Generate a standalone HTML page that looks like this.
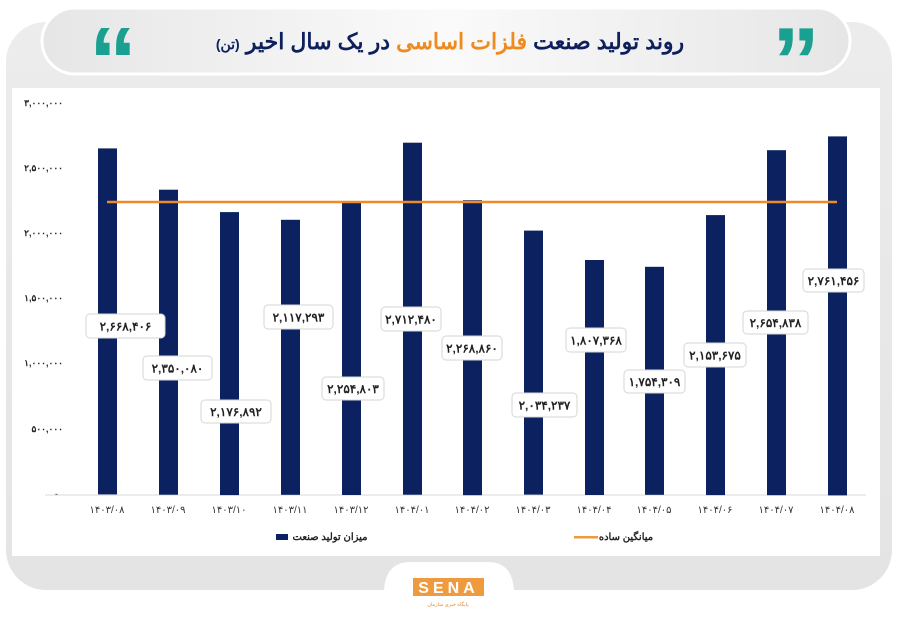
<!DOCTYPE html>
<html><head><meta charset="utf-8"><style>
html,body{margin:0;padding:0;background:#fff;width:898px;height:621px;overflow:hidden}
svg text{font-family:"Liberation Sans","Noto Sans CJK SC",sans-serif}
</style></head><body>
<svg width="898" height="621" viewBox="0 0 898 621" xmlns="http://www.w3.org/2000/svg">
<defs>
<linearGradient id="g" x1="0" y1="0" x2="0" y2="1"><stop offset="0" stop-color="#ececec"/><stop offset="1" stop-color="#e4e4e4"/></linearGradient>
<linearGradient id="h" x1="0" y1="0" x2="1" y2="0"><stop offset="0" stop-color="#e6e6e6"/><stop offset="0.5" stop-color="#fafafa"/><stop offset="1" stop-color="#e6e6e6"/></linearGradient>
</defs>
<rect x="6" y="22" width="886" height="568" rx="40" fill="url(#g)"/>
<rect x="42" y="8" width="808" height="66" rx="33" fill="url(#h)" stroke="#fff" stroke-width="3"/>
<text x="450" y="49" text-anchor="middle" font-size="22" font-weight="bold" fill="#0d1f5c" direction="rtl">روند تولید صنعت <tspan fill="#ef8a1f">فلزات اساسی</tspan> در یک سال اخیر <tspan font-size="14">(تن)</tspan></text>
<text x="113" y="94" text-anchor="middle" font-size="96" font-weight="bold" fill="#1aa090" font-family="Liberation Serif">“</text>
<text x="796" y="94" text-anchor="middle" font-size="96" font-weight="bold" fill="#1aa090" font-family="Liberation Serif">”</text>
<rect x="12" y="88" width="868" height="468" fill="#fff"/>
<path d="M384 590 Q386 562 410 562 L488 562 Q512 562 514 590 Z" fill="#fff"/>
<rect x="413" y="578" width="71" height="18" fill="#ef9a3e"/>
<text x="448.5" y="593" text-anchor="middle" font-size="16" font-weight="bold" fill="#fff" letter-spacing="4">SENA</text>
<text x="448" y="606" text-anchor="middle" font-size="5" fill="#e08a30">پایگاه خبری سازمان</text>
<g font-size="9" fill="#222" text-anchor="end" font-weight="bold">
<text x="63" y="106">۳,۰۰۰,۰۰۰</text>
<text x="63" y="171">۲,۵۰۰,۰۰۰</text>
<text x="63" y="236">۲,۰۰۰,۰۰۰</text>
<text x="63" y="301">۱,۵۰۰,۰۰۰</text>
<text x="63" y="366">۱,۰۰۰,۰۰۰</text>
<text x="63" y="432">۵۰۰,۰۰۰</text>
<text x="58" y="497">-</text>
</g>
<line x1="45" y1="495" x2="866" y2="495" stroke="#d9d9d9" stroke-width="1"/>
<g fill="#0b2160">
<rect x="98" y="148.4" width="19" height="346"/>
<rect x="159" y="189.7" width="19" height="305"/>
<rect x="220" y="212.1" width="19" height="283"/>
<rect x="281" y="219.8" width="19" height="275"/>
<rect x="342" y="202" width="19" height="293"/>
<rect x="403" y="142.7" width="19" height="352"/>
<rect x="463" y="200.2" width="19" height="295"/>
<rect x="524" y="230.6" width="19" height="264"/>
<rect x="585" y="260" width="19" height="235"/>
<rect x="645" y="266.8" width="19" height="228"/>
<rect x="706" y="215.1" width="19" height="280"/>
<rect x="767" y="150.2" width="19" height="345"/>
<rect x="828" y="136.4" width="19" height="359"/>
</g>
<line x1="107" y1="202" x2="837" y2="202" stroke="#ef8a2a" stroke-width="2.5"/>
<g fill="#fff" stroke="#d6d6d6" stroke-width="1">
<rect x="86" y="314" width="79" height="24" rx="4"/>
<rect x="143" y="356" width="69" height="24" rx="4"/>
<rect x="201" y="400" width="70" height="23" rx="4"/>
<rect x="264" y="305" width="69" height="24" rx="4"/>
<rect x="322" y="377" width="62" height="23" rx="4"/>
<rect x="381" y="307" width="60" height="24" rx="4"/>
<rect x="442" y="336" width="60" height="24" rx="4"/>
<rect x="512" y="393" width="65" height="24" rx="4"/>
<rect x="566" y="328" width="60" height="24" rx="4"/>
<rect x="624" y="370" width="61" height="23" rx="4"/>
<rect x="684" y="343" width="62" height="24" rx="4"/>
<rect x="743" y="311" width="65" height="23" rx="4"/>
<rect x="803" y="269" width="61" height="23" rx="4"/>
</g>
<g font-size="12" font-weight="bold" fill="#222" text-anchor="middle">
<text x="125.5" y="330.5">۲,۶۶۸,۴۰۶</text>
<text x="177.5" y="372.5">۲,۳۵۰,۰۸۰</text>
<text x="236" y="416">۲,۱۷۶,۸۹۲</text>
<text x="298.5" y="321.5">۲,۱۱۷,۲۹۳</text>
<text x="353" y="393">۲,۲۵۴,۸۰۳</text>
<text x="411" y="323.5">۲,۷۱۲,۴۸۰</text>
<text x="472" y="352.5">۲,۲۶۸,۸۶۰</text>
<text x="544.5" y="409.5">۲,۰۳۴,۲۳۷</text>
<text x="596" y="344.5">۱,۸۰۷,۳۶۸</text>
<text x="654.5" y="386">۱,۷۵۴,۳۰۹</text>
<text x="715" y="359.5">۲,۱۵۳,۶۷۵</text>
<text x="775.5" y="327">۲,۶۵۴,۸۳۸</text>
<text x="833.5" y="285">۲,۷۶۱,۴۵۶</text>
</g>
<g font-size="10" fill="#333" text-anchor="middle">
<text x="107" y="513">۱۴۰۳/۰۸</text>
<text x="168" y="513">۱۴۰۳/۰۹</text>
<text x="229" y="513">۱۴۰۳/۱۰</text>
<text x="290" y="513">۱۴۰۳/۱۱</text>
<text x="351" y="513">۱۴۰۳/۱۲</text>
<text x="412" y="513">۱۴۰۴/۰۱</text>
<text x="472" y="513">۱۴۰۴/۰۲</text>
<text x="533" y="513">۱۴۰۴/۰۳</text>
<text x="594" y="513">۱۴۰۴/۰۴</text>
<text x="654" y="513">۱۴۰۴/۰۵</text>
<text x="715" y="513">۱۴۰۴/۰۶</text>
<text x="776" y="513">۱۴۰۴/۰۷</text>
<text x="837" y="513">۱۴۰۴/۰۸</text>
</g>
<rect x="276" y="534" width="12" height="6" fill="#0b2160"/>
<text x="330" y="540" text-anchor="middle" font-size="10" font-weight="bold" fill="#222">میزان تولید صنعت</text>
<rect x="574" y="536" width="24" height="2.5" fill="#ef9a3e"/>
<text x="626" y="540" text-anchor="middle" font-size="10" font-weight="bold" fill="#222">میانگین ساده</text>
</svg>
</body></html>
